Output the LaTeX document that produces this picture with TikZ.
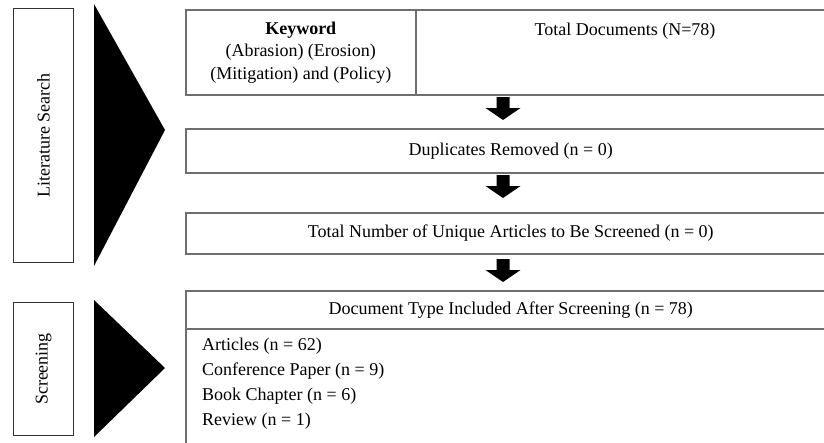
\documentclass[tikz,border=0pt]{standalone}
\usepackage{fontspec}
\setmainfont{Liberation Serif}
\usetikzlibrary{calc}
\definecolor{boxgray}{HTML}{6E6E6E}
\definecolor{labgray}{HTML}{333333}
\begin{document}
\begin{tikzpicture}[x=1pt,y=-1pt,
  every node/.style={font=\fontsize{18}{22.5}\selectfont, inner sep=0pt},
  mainbox/.style={draw=boxgray, line width=1.5pt, anchor=north west},
  labbox/.style={draw=labgray, line width=1pt, anchor=north west},
  fatarrow/.style={fill=black, draw=none},
  wedge/.style={fill=black, draw=none}]
\clip (0,0) rectangle (824,442);
\fill[white] (0,0) rectangle (824,442);

% left labels
\node[labbox, minimum width=60, minimum height=254] (lit) at (13,8) {};
\node[rotate=90] (littext) at (lit.center) {Literature Search};
\node[labbox, minimum width=60, minimum height=133] (scr) at (13,302) {};
\node[rotate=90] (scrtext) at (scr.center) {Screening};

% wedges
\fill[wedge] (94,4) -- (165,130) -- (94,266) -- cycle;
\fill[wedge] (94,300) -- (165,368) -- (94,437) -- cycle;

% main boxes
\node[mainbox, minimum width=650, minimum height=85] (search) at (185,9) {};
\node[mainbox, minimum width=230, minimum height=85] (kw) at (185,9) {};
\node[align=center] (kwtext) at (kw.center) {\textbf{Keyword}\\(Abrasion) (Erosion)\\(Mitigation) and (Policy)};
\node[anchor=base] (total) at (625,35) {Total Documents (N=78)};

\node[mainbox, minimum width=650, minimum height=44] (dup) at (185,128) {};
\node (duptext) at (dup.center) {Duplicates Removed (n = 0)};

\node[mainbox, minimum width=650, minimum height=41] (uniq) at (185,212) {};
\node (uniqtext) at (uniq.center) {Total Number of Unique Articles to Be Screened (n = 0)};

\node[mainbox, minimum width=650, minimum height=38] (dtype) at (185,290) {};
\node (dtypetext) at (dtype.center) {Document Type Included After Screening (n = 78)};

\node[mainbox, minimum width=650, minimum height=130] (list) at (185,328) {};
\node[align=left, anchor=north west, font=\fontsize{18}{25}\selectfont] (listtext) at (202,338)
  {Articles (n = 62)\\Conference Paper (n = 9)\\Book Chapter (n = 6)\\Review (n = 1)};

% arrows
\coordinate (a1) at (503,97);
\coordinate (a2) at (503,175);
\coordinate (a3) at (503,259);
\foreach \a in {a1,a2,a3}{
  \fill[fatarrow] (\a) ++(-6.5,0) -- ++(13,0) -- ++(0,11) -- ++(11,0) -- ++(-17.5,12) -- ++(-17.5,-12) -- ++(11,0) -- cycle;
}
\end{tikzpicture}
\end{document}
